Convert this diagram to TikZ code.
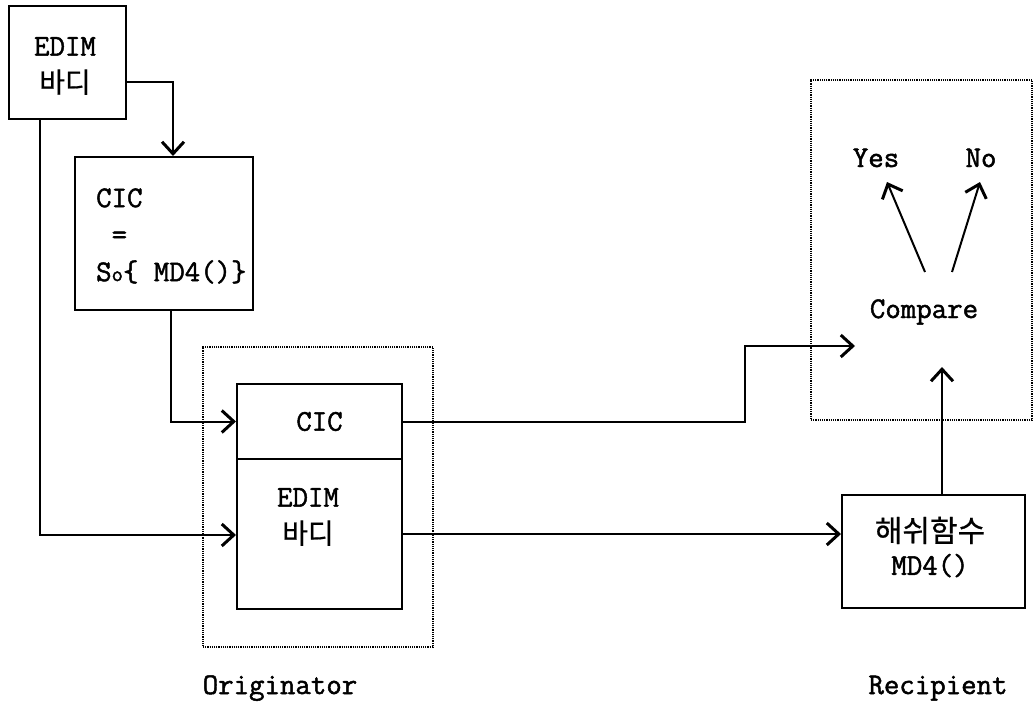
\documentclass[tikz,border=0pt]{standalone}
\usepackage{fontspec}
\newfontfamily\krfont[FakeBold=0.6]{Noto Sans CJK KR}
\newfontfamily\monofnt[FakeBold=1.6]{Latin Modern Mono}
\newcommand\kor[2]{{\krfont\fontsize{#1}{38}\selectfont #2}}
\usetikzlibrary{arrows.meta}
\begin{document}
\begin{tikzpicture}[x=1pt,y=-1pt,
  ln/.style={line width=2pt},
  arr/.style={line width=2pt,-{Straight Barb[length=12pt,width=22pt,line width=3pt]}},
  box/.style={draw,line width=2pt,inner sep=0pt},
  dotbox/.style={draw,line width=1.2pt,densely dotted,inner sep=0pt},
  lbl/.style={font=\fontsize{30}{37}\selectfont\monofnt,inner sep=0pt,align=center},
]
\useasboundingbox (0,0) rectangle (1035,704);

% top-left EDIM body
\node[box,minimum width=117pt,minimum height=113pt] (edim) at (67.5,62.5) {};
\node[lbl] (edimtxt) at (65,66) {EDIM\\\kor{28}{바디}};

% CIC box
\node[box,minimum width=178pt,minimum height=153pt] (cic) at (164,233.5) {};
\node[lbl,align=left,anchor=west] (cictxt) at (96,236) {CIC\\\phantom{C}=\\S{\fontsize{22}{22}\selectfont o}\{ MD4()\}};

% Originator
\node[dotbox,minimum width=230pt,minimum height=300pt] (orig) at (318,497) {};
\node[box,lbl,minimum width=165pt,minimum height=75pt] (cicp) at (319.5,421.5) {CIC};
\node[box,minimum width=165pt,minimum height=150pt] (bodyp) at (319.5,534) {};
\node[lbl] (bodytxt) at (308,517) {EDIM\\\kor{28}{바디}};
\node[lbl,anchor=base] (orignm) at (280,694) {Originator};

% Recipient
\node[dotbox,minimum width=221pt,minimum height=340pt] (rbox) at (921.5,250) {};
\node[lbl,anchor=base] (yes) at (876,167) {Yes};
\node[lbl,anchor=base] (no) at (981,167) {No};
\node[lbl,anchor=base] (cmp) at (924,318) {Compare};
\node[box,minimum width=183pt,minimum height=113pt] (hash) at (933.5,551.5) {};
\node[lbl] (hashtxt) at (930,547) {\kor{30}{해쉬함수}\\[-4pt]MD4()};
\node[lbl,anchor=base] (recnm) at (938,694) {Recipient};

\coordinate (cmpin) at (855,346);
\coordinate (cmpup) at (942,367);
\coordinate (ya) at (925,272);
\coordinate (yb) at (887,182);
\coordinate (na) at (952,272);
\coordinate (nb) at (980,182);

% connectors
\draw[arr] (edim.east |- 0,82) -| (cic.north -| 173,0);
\draw[arr] (edim.south -| 40,0) |- (bodyp.west |- 0,535);
\draw[arr] (cic.south -| 171,0) |- (cicp.west);
\draw[arr] (cicp.east) -- (cicp.east -| 745,0) |- (cmpin);
\draw[arr] (bodyp.east |- 0,534) -- (hash.west |- 0,534);
\draw[arr] (hash.north -| 942,0) -- (cmpup);
\draw[arr] (ya) -- (yb);
\draw[arr] (na) -- (nb);
\end{tikzpicture}
\end{document}
